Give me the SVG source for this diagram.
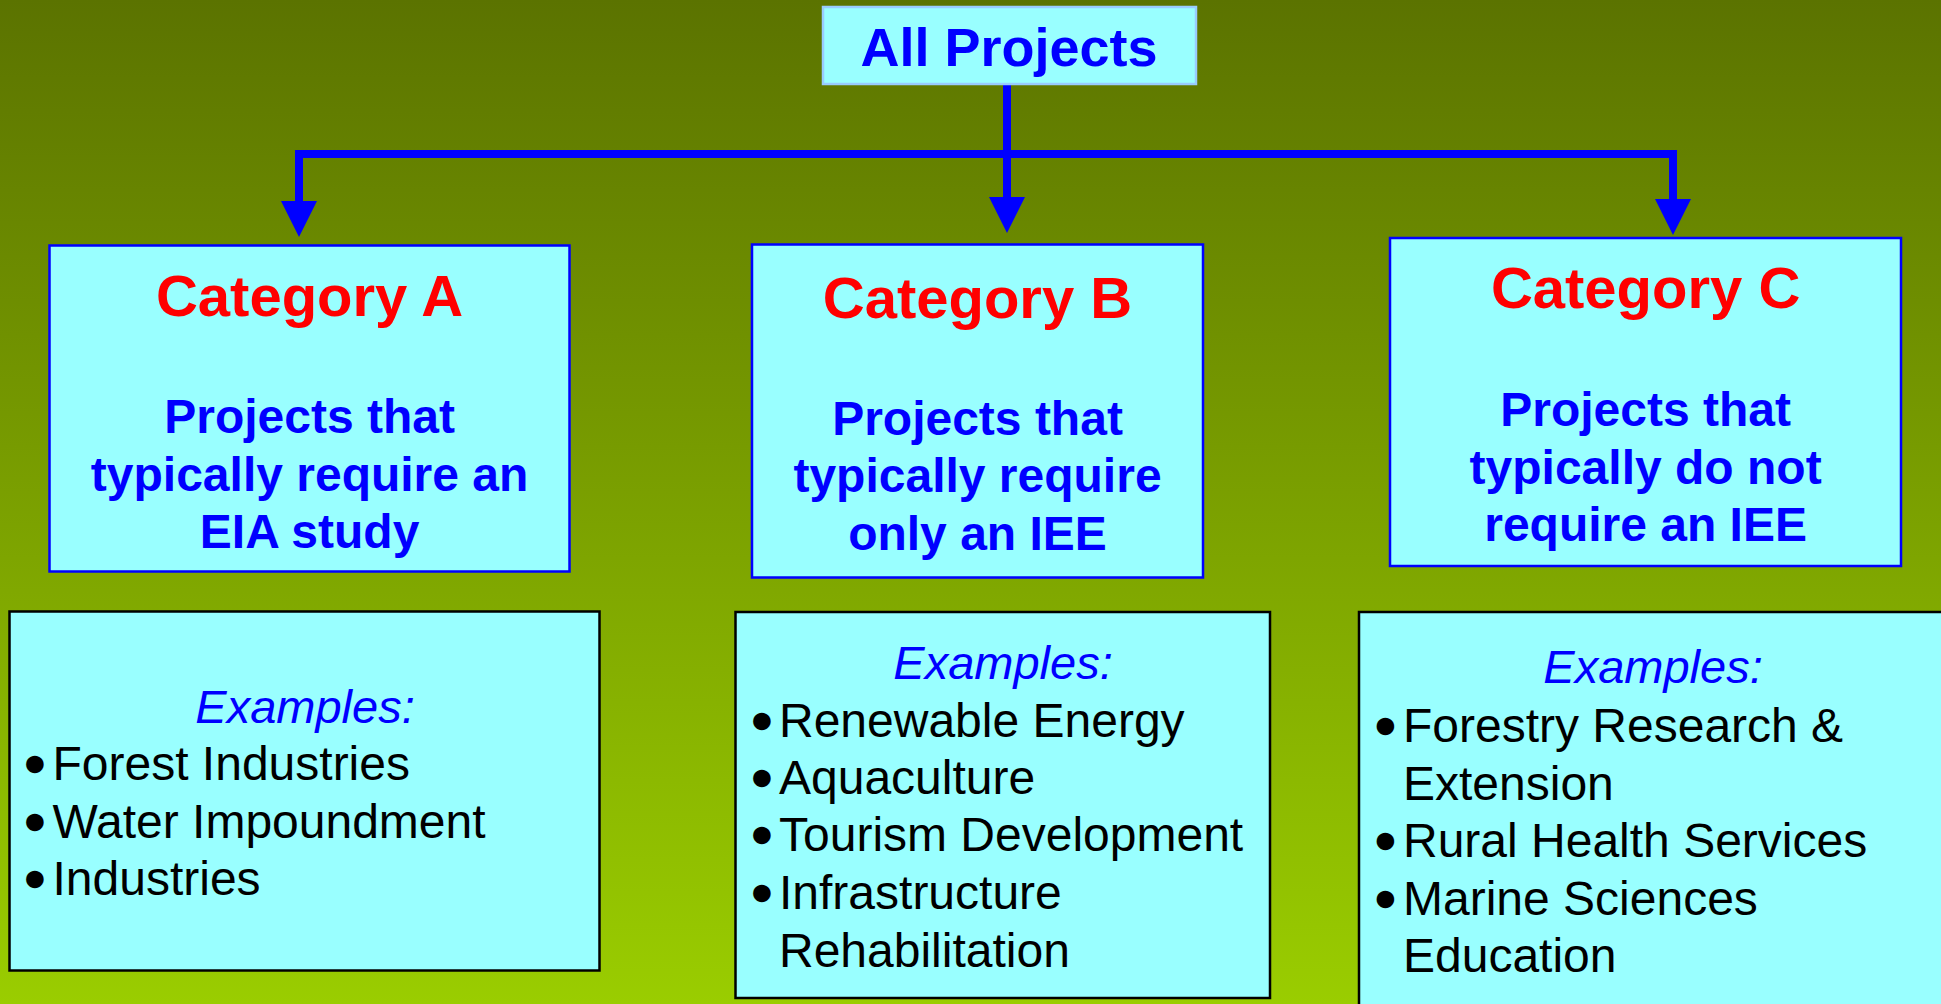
<svg xmlns="http://www.w3.org/2000/svg" width="1941" height="1004" viewBox="0 0 1941 1004">
<defs>
<linearGradient id="bg" x1="0" y1="0" x2="0" y2="1">
<stop offset="0" stop-color="#5b7300"/>
<stop offset="1" stop-color="#9acd00"/>
</linearGradient>
<marker id="arr" markerUnits="userSpaceOnUse" markerWidth="36" markerHeight="36" viewBox="0 0 36 36" refX="0" refY="18" orient="auto">
<path d="M0,0 L36,18 L0,36 Z" fill="#0000ff"/>
</marker>
<style>
.box{fill:#99ffff}
.top{stroke:#99ccff;stroke-width:2.5}
.cat{stroke:#0000ff;stroke-width:2.5}
.ex{stroke:#000000;stroke-width:2.5}
.t{font-family:"Liberation Sans",Arial,sans-serif}
.title{font-size:58px;font-weight:bold;fill:#ff0000;text-anchor:middle}
.sub{font-size:48px;font-weight:bold;fill:#0000ff;text-anchor:middle}
.head{font-size:54px;font-weight:bold;fill:#0000ff;text-anchor:middle}
.exh{font-size:47px;font-style:italic;fill:#0000ff;text-anchor:middle}
.li{font-size:48px;fill:#000000}
.bu{font-size:48px;fill:#000000;text-anchor:middle;stroke:#000000;stroke-width:4.5;stroke-linejoin:round}
.con{stroke:#0000ff;stroke-width:8;fill:none}
</style>
</defs>
<rect x="0" y="0" width="1941" height="1004" fill="url(#bg)"/>

<g id="connectors">
<path class="con" d="M295 154 H1677"/>
<path class="con" d="M1007 84 V197" marker-end="url(#arr)"/>
<path class="con" d="M299 150 V201" marker-end="url(#arr)"/>
<path class="con" d="M1673 150 V199" marker-end="url(#arr)"/>
</g>

<g id="all-projects">
<rect class="box top" x="823" y="7" width="373" height="77"/>
<text class="t head" x="1009" y="66">All Projects</text>
</g>

<g id="category-a">
<rect class="box cat" x="49.5" y="245.5" width="520" height="326"/>
<text class="t title" x="309.6" y="316">Category A</text>
<text class="t sub" x="309.6" y="433">Projects that</text>
<text class="t sub" x="309.6" y="491">typically require an</text>
<text class="t sub" x="309.6" y="548">EIA study</text>
</g>

<g id="category-b">
<rect class="box cat" x="752" y="244.5" width="451" height="333"/>
<text class="t title" x="977.5" y="318">Category B</text>
<text class="t sub" x="977.5" y="435">Projects that</text>
<text class="t sub" x="977.5" y="492">typically require</text>
<text class="t sub" x="977.5" y="550">only an IEE</text>
</g>

<g id="category-c">
<rect class="box cat" x="1390" y="238" width="511" height="328"/>
<text class="t title" x="1645.6" y="308">Category C</text>
<text class="t sub" x="1645.6" y="426">Projects that</text>
<text class="t sub" x="1645.6" y="484">typically do not</text>
<text class="t sub" x="1645.6" y="541">require an IEE</text>
</g>

<g id="examples-a">
<rect class="box ex" x="9.5" y="611.5" width="590" height="359"/>
<text class="t exh" x="305" y="723">Examples:</text>
<text class="t bu" x="35" y="780">•</text><text class="t li" x="52.5" y="780">Forest Industries</text>
<text class="t bu" x="35" y="837.5">•</text><text class="t li" x="52.5" y="837.5">Water Impoundment</text>
<text class="t bu" x="35" y="895">•</text><text class="t li" x="52.5" y="895">Industries</text>
</g>

<g id="examples-b">
<rect class="box ex" x="735.5" y="612" width="534.5" height="386"/>
<text class="t exh" x="1003" y="679">Examples:</text>
<text class="t bu" x="762" y="736.7">•</text><text class="t li" x="779" y="736.7">Renewable Energy</text>
<text class="t bu" x="762" y="794">•</text><text class="t li" x="779" y="794">Aquaculture</text>
<text class="t bu" x="762" y="851">•</text><text class="t li" x="779" y="851">Tourism Development</text>
<text class="t bu" x="762" y="909">•</text><text class="t li" x="779" y="909">Infrastructure</text>
<text class="t li" x="779" y="966.7">Rehabilitation</text>
</g>

<g id="examples-c">
<rect class="box ex" x="1359" y="612" width="590" height="400"/>
<text class="t exh" x="1653" y="683.3">Examples:</text>
<text class="t bu" x="1385.4" y="741.7">•</text><text class="t li" x="1403" y="741.7">Forestry Research &amp;</text>
<text class="t li" x="1403" y="800">Extension</text>
<text class="t bu" x="1385.4" y="856.7">•</text><text class="t li" x="1403" y="856.7">Rural Health Services</text>
<text class="t bu" x="1385.4" y="915">•</text><text class="t li" x="1403" y="915">Marine Sciences</text>
<text class="t li" x="1403" y="971.7">Education</text>
</g>
</svg>
